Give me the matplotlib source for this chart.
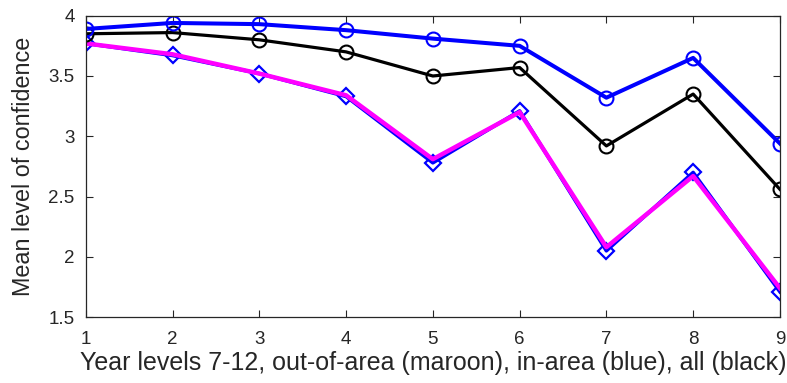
import matplotlib.pyplot as plt

years = [1, 2, 3, 4, 5, 6, 7, 8, 9]
in_area = [3.89, 3.94, 3.93, 3.88, 3.81, 3.75, 3.32, 3.65, 2.94]
all_students = [3.85, 3.86, 3.80, 3.70, 3.50, 3.57, 2.92, 3.35, 2.56]
out_markers = [3.77, 3.67, 3.52, 3.33, 2.78, 3.21, 2.05, 2.70, 1.71]
out_area = [3.77, 3.68, 3.52, 3.34, 2.81, 3.20, 2.08, 2.67, 1.74]

plt.rcParams['font.family'] = ['Liberation Sans', 'DejaVu Sans']
txt = '#262626'

fig = plt.figure(figsize=(7.87, 3.83), dpi=100)
ax = fig.add_axes([0.109, 0.172, 0.882, 0.787])

ax.plot(years, out_markers, color='blue', lw=2.6, marker='D', markersize=8,
        markerfacecolor='none', markeredgewidth=1.6)
ax.plot(years, out_area, color='magenta', lw=3.2)
ax.plot(years, all_students, color='black', lw=2.3, marker='o', markersize=10,
        markerfacecolor='none', markeredgewidth=1.5)
ax.plot(years, in_area, color='blue', lw=2.9, marker='o', markersize=10,
        markerfacecolor='none', markeredgewidth=1.5)

ax.set_xlim(1, 9)
ax.set_ylim(1.5, 4)
ax.set_xticks(years)
ax.set_yticks([1.5, 2, 2.5, 3, 3.5, 4])
ax.set_yticklabels(['1.5', '2', '2.5', '3', '3.5', '4'])
ax.tick_params(direction='in', top=True, right=True, labelsize=13.5, colors=txt,
               length=5, width=0.8)
ax.tick_params(axis='x', pad=10)
ax.tick_params(axis='y', pad=8)
for s in ax.spines.values():
    s.set_color(txt)
    s.set_linewidth(0.9)

ax.set_xlabel('Year levels 7-12, out-of-area (maroon), in-area (blue), all (black)',
              fontsize=18, color=txt, labelpad=2)
ax.set_ylabel('Mean level of confidence', fontsize=16.8, color=txt, labelpad=10)

fig.savefig('out.png', dpi=100)
